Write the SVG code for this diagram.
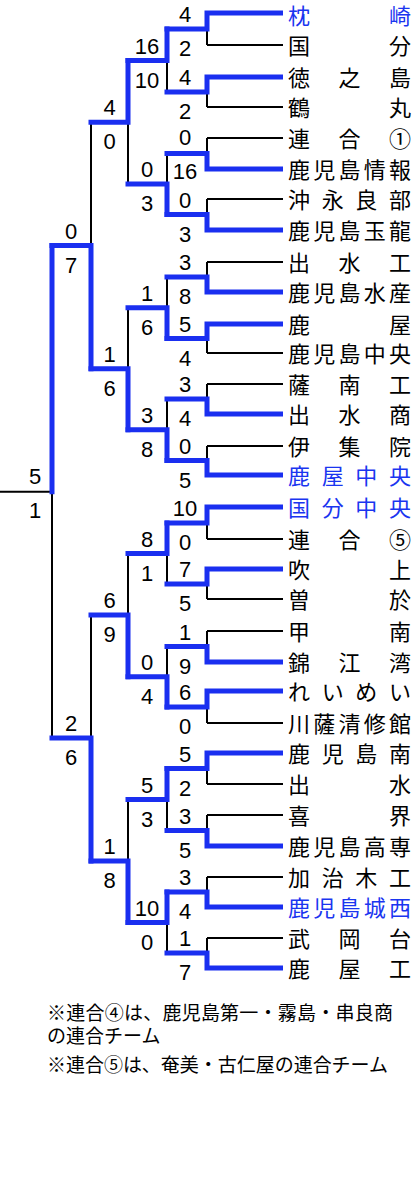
<svg xmlns="http://www.w3.org/2000/svg" width="420" height="1184" viewBox="0 0 420 1184">
<style>
.bk{fill:none;stroke:#000;stroke-width:2}
.bl{fill:none;stroke:#1a2ff0;stroke-width:5;stroke-linecap:square;stroke-linejoin:miter}
.tm{font-family:"Noto Sans CJK JP","Noto Sans CJK SC",sans-serif;font-size:22px;fill:#000}
.tb{fill:#1a35f0}
.sc{font-family:"Liberation Sans",Arial,sans-serif;font-size:22px;fill:#000;text-anchor:middle}
.nt{font-family:"Noto Sans CJK JP","Noto Sans CJK SC",sans-serif;font-size:19px;fill:#000}
</style>
<rect width="420" height="1184" fill="#fff"/>
<g id="connectors">
<path class="bk" d="M207 13H283M207 45H283M207 77H283M207 107H283M207 138H283M207 169H283M207 199H283M207 230H283M207 262H283M207 292H283M207 324H283M207 353H283M207 384H283M207 414H283M207 446H283M207 475H283M207 507H283M207 539H283M207 569H283M207 599H283M207 631H283M207 662H283M207 691H283M207 723H283M207 753H283M207 784H283M207 815H283M207 846H283M207 877H283M207 907H283M207 938H283M207 968H283"/>
<path class="bk" d="M207 13V45M207 77V107M207 138V169M207 199V230M207 262V292M207 324V353M207 384V414M207 446V475M207 507V539M207 569V599M207 631V662M207 691V723M207 753V784M207 815V846M207 877V907M207 938V968"/>
<path class="bk" d="M167 29V92M167 153.5V214.5M167 277V338.5M167 399V460.5M167 523V584M167 646.5V707M167 768.5V830.5M167 892V953"/>
<path class="bk" d="M128 60.5V184M128 307.8V429.8M128 553.5V676.8M128 799.5V922.5"/>
<path class="bk" d="M91 122.2V368.8M91 615.1V861"/>
<path class="bk" d="M52 245.5V738M0 491.8H52"/>
<polyline class="bl" points="280.5,13 207,13 207,29 167,29"/>
<polyline class="bl" points="280.5,77 207,77 207,92 167,92"/>
<polyline class="bl" points="280.5,169 207,169 207,153.5 167,153.5"/>
<polyline class="bl" points="280.5,230 207,230 207,214.5 167,214.5"/>
<polyline class="bl" points="280.5,292 207,292 207,277 167,277"/>
<polyline class="bl" points="280.5,324 207,324 207,338.5 167,338.5"/>
<polyline class="bl" points="280.5,414 207,414 207,399 167,399"/>
<polyline class="bl" points="280.5,475 207,475 207,460.5 167,460.5"/>
<polyline class="bl" points="280.5,507 207,507 207,523 167,523"/>
<polyline class="bl" points="280.5,569 207,569 207,584 167,584"/>
<polyline class="bl" points="280.5,662 207,662 207,646.5 167,646.5"/>
<polyline class="bl" points="280.5,691 207,691 207,707 167,707"/>
<polyline class="bl" points="280.5,753 207,753 207,768.5 167,768.5"/>
<polyline class="bl" points="280.5,846 207,846 207,830.5 167,830.5"/>
<polyline class="bl" points="280.5,907 207,907 207,892 167,892"/>
<polyline class="bl" points="280.5,968 207,968 207,953 167,953"/>
<polyline class="bl" points="167,29 167,60.5 128,60.5"/>
<polyline class="bl" points="167,214.5 167,184 128,184"/>
<polyline class="bl" points="167,338.5 167,307.8 128,307.8"/>
<polyline class="bl" points="167,460.5 167,429.8 128,429.8"/>
<polyline class="bl" points="167,523 167,553.5 128,553.5"/>
<polyline class="bl" points="167,707 167,676.8 128,676.8"/>
<polyline class="bl" points="167,768.5 167,799.5 128,799.5"/>
<polyline class="bl" points="167,892 167,922.5 128,922.5"/>
<polyline class="bl" points="128,60.5 128,122.2 91,122.2"/>
<polyline class="bl" points="128,429.8 128,368.8 91,368.8"/>
<polyline class="bl" points="128,676.8 128,615.1 91,615.1"/>
<polyline class="bl" points="128,922.5 128,861 91,861"/>
<polyline class="bl" points="91,368.8 91,245.5 52,245.5"/>
<polyline class="bl" points="91,861 91,738 52,738"/>
<polyline class="bl" points="52,245.5 52,491.8"/>
</g>
<g id="teams">
<g id="t00"><text class="tm tb" x="288 389" y="24">枕崎</text></g>
<g id="t01"><text class="tm" x="288 389" y="54">国分</text></g>
<g id="t02"><text class="tm" x="288 338.5 389" y="86">徳之島</text></g>
<g id="t03"><text class="tm" x="288 389" y="116">鶴丸</text></g>
<g id="t04"><text class="tm" x="288 338.5 389" y="147">連合①</text></g>
<g id="t05"><text class="tm" x="288 313.2 338.5 363.8 389" y="178">鹿児島情報</text></g>
<g id="t06"><text class="tm" x="288 321.7 355.3 389" y="208">沖永良部</text></g>
<g id="t07"><text class="tm" x="288 313.2 338.5 363.8 389" y="239">鹿児島玉龍</text></g>
<g id="t08"><text class="tm" x="288 338.5 389" y="271">出水工</text></g>
<g id="t09"><text class="tm" x="288 313.2 338.5 363.8 389" y="301">鹿児島水産</text></g>
<g id="t10"><text class="tm" x="288 389" y="333">鹿屋</text></g>
<g id="t11"><text class="tm" x="288 313.2 338.5 363.8 389" y="362">鹿児島中央</text></g>
<g id="t12"><text class="tm" x="288 338.5 389" y="393">薩南工</text></g>
<g id="t13"><text class="tm" x="288 338.5 389" y="423">出水商</text></g>
<g id="t14"><text class="tm" x="288 338.5 389" y="455">伊集院</text></g>
<g id="t15"><text class="tm tb" x="288 321.7 355.3 389" y="484">鹿屋中央</text></g>
<g id="t16"><text class="tm tb" x="288 321.7 355.3 389" y="516">国分中央</text></g>
<g id="t17"><text class="tm" x="288 338.5 389" y="548">連合⑤</text></g>
<g id="t18"><text class="tm" x="288 389" y="578">吹上</text></g>
<g id="t19"><text class="tm" x="288 389" y="608">曽於</text></g>
<g id="t20"><text class="tm" x="288 389" y="640">甲南</text></g>
<g id="t21"><text class="tm" x="288 338.5 389" y="671">錦江湾</text></g>
<g id="t22"><text class="tm" x="288 321.7 355.3 389" y="700">れいめい</text></g>
<g id="t23"><text class="tm" x="288 313.2 338.5 363.8 389" y="732">川薩清修館</text></g>
<g id="t24"><text class="tm" x="288 321.7 355.3 389" y="762">鹿児島南</text></g>
<g id="t25"><text class="tm" x="288 389" y="793">出水</text></g>
<g id="t26"><text class="tm" x="288 389" y="824">喜界</text></g>
<g id="t27"><text class="tm" x="288 313.2 338.5 363.8 389" y="855">鹿児島高専</text></g>
<g id="t28"><text class="tm" x="288 321.7 355.3 389" y="886">加治木工</text></g>
<g id="t29"><text class="tm tb" x="288 313.2 338.5 363.8 389" y="916">鹿児島城西</text></g>
<g id="t30"><text class="tm" x="288 338.5 389" y="947">武岡台</text></g>
<g id="t31"><text class="tm" x="288 338.5 389" y="977">鹿屋工</text></g>
</g>
<g id="scores">
<g id="r1">
<text class="sc" x="185" y="22">4</text><text class="sc" x="185" y="56">2</text>
<text class="sc" x="185" y="85">4</text><text class="sc" x="185" y="119">2</text>
<text class="sc" x="185" y="145">0</text><text class="sc" x="185" y="179">16</text>
<text class="sc" x="185" y="207.5">0</text><text class="sc" x="185" y="241.5">3</text>
<text class="sc" x="185" y="270">3</text><text class="sc" x="185" y="304">8</text>
<text class="sc" x="185" y="331.5">5</text><text class="sc" x="185" y="365.5">4</text>
<text class="sc" x="185" y="392">3</text><text class="sc" x="185" y="426">4</text>
<text class="sc" x="185" y="453.5">0</text><text class="sc" x="185" y="487.5">5</text>
<text class="sc" x="185" y="516">10</text><text class="sc" x="185" y="550">0</text>
<text class="sc" x="185" y="577">7</text><text class="sc" x="185" y="611">5</text>
<text class="sc" x="185" y="639.5">1</text><text class="sc" x="185" y="673.5">9</text>
<text class="sc" x="185" y="700">6</text><text class="sc" x="185" y="734">0</text>
<text class="sc" x="185" y="761.5">5</text><text class="sc" x="185" y="795.5">2</text>
<text class="sc" x="185" y="823.5">3</text><text class="sc" x="185" y="857.5">5</text>
<text class="sc" x="185" y="885">3</text><text class="sc" x="185" y="919">4</text>
<text class="sc" x="185" y="946">1</text><text class="sc" x="185" y="980">7</text>
</g>
<g id="r2">
<text class="sc" x="147" y="53.5">16</text><text class="sc" x="147" y="87.5">10</text>
<text class="sc" x="147" y="177">0</text><text class="sc" x="147" y="211">3</text>
<text class="sc" x="147" y="300.8">1</text><text class="sc" x="147" y="334.8">6</text>
<text class="sc" x="147" y="422.8">3</text><text class="sc" x="147" y="456.8">8</text>
<text class="sc" x="147" y="546.5">8</text><text class="sc" x="147" y="580.5">1</text>
<text class="sc" x="147" y="669.8">0</text><text class="sc" x="147" y="703.8">4</text>
<text class="sc" x="147" y="792.5">5</text><text class="sc" x="147" y="826.5">3</text>
<text class="sc" x="147" y="915.5">10</text><text class="sc" x="147" y="949.5">0</text>
</g>
<g id="r3">
<text class="sc" x="109.5" y="115.2">4</text><text class="sc" x="109.5" y="149.2">0</text>
<text class="sc" x="109.5" y="361.8">1</text><text class="sc" x="109.5" y="395.8">6</text>
<text class="sc" x="109.5" y="608.1">6</text><text class="sc" x="109.5" y="642.1">9</text>
<text class="sc" x="109.5" y="854">1</text><text class="sc" x="109.5" y="888">8</text>
</g>
<g id="r4">
<text class="sc" x="71" y="238.5">0</text><text class="sc" x="71" y="272.5">7</text>
<text class="sc" x="71" y="731">2</text><text class="sc" x="71" y="765">6</text>
</g>
<g id="final">
<text class="sc" x="35" y="484">5</text><text class="sc" x="35" y="518">1</text>
</g>
</g>
<g id="notes">
<text class="nt" x="47" y="1020" textLength="346" lengthAdjust="spacing">※連合④は、鹿児島第一・霧島・串良商</text>
<text class="nt" x="47" y="1043">の連合チーム</text>
<text class="nt" x="47" y="1072" textLength="341" lengthAdjust="spacing">※連合⑤は、奄美・古仁屋の連合チーム</text>
</g>
</svg>
